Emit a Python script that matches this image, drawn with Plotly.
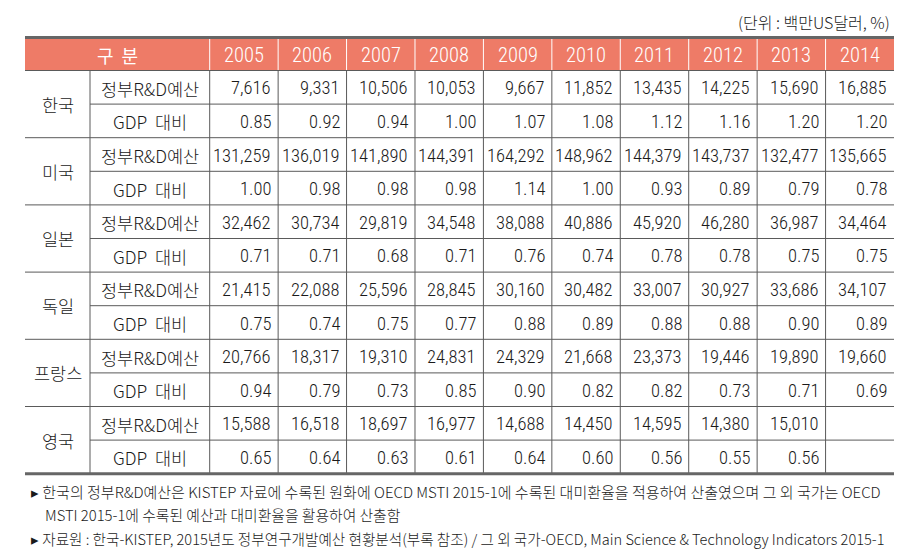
import plotly.graph_objects as go

# ---------------- data ----------------
years = ["2005", "2006", "2007", "2008", "2009", "2010", "2011", "2012", "2013", "2014"]
countries = ["한국", "미국", "일본", "독일", "프랑스", "영국"]
row_labels = ["정부R&D예산", "GDP\u00a0\u00a0대비"]

korea_budget = [7616, 9331, 10506, 10053, 9667, 11852, 13435, 14225, 15690, 16885]
korea_gdp = [0.85, 0.92, 0.94, 1.00, 1.07, 1.08, 1.12, 1.16, 1.20, 1.20]
usa_budget = [131259, 136019, 141890, 144391, 164292, 148962, 144379, 143737, 132477, 135665]
usa_gdp = [1.00, 0.98, 0.98, 0.98, 1.14, 1.00, 0.93, 0.89, 0.79, 0.78]
japan_budget = [32462, 30734, 29819, 34548, 38088, 40886, 45920, 46280, 36987, 34464]
japan_gdp = [0.71, 0.71, 0.68, 0.71, 0.76, 0.74, 0.78, 0.78, 0.75, 0.75]
germany_budget = [21415, 22088, 25596, 28845, 30160, 30482, 33007, 30927, 33686, 34107]
germany_gdp = [0.75, 0.74, 0.75, 0.77, 0.88, 0.89, 0.88, 0.88, 0.90, 0.89]
france_budget = [20766, 18317, 19310, 24831, 24329, 21668, 23373, 19446, 19890, 19660]
france_gdp = [0.94, 0.79, 0.73, 0.85, 0.90, 0.82, 0.82, 0.73, 0.71, 0.69]
uk_budget = [15588, 16518, 18697, 16977, 14688, 14450, 14595, 14380, 15010, None]
uk_gdp = [0.65, 0.64, 0.63, 0.61, 0.64, 0.60, 0.56, 0.55, 0.56, None]

header_label = "구\u00a0\u00a0분"
unit_text = "(단위 : 백만US달러, %)"
footnote1 = "▸ 한국의 정부R&D예산은 KISTEP 자료에 수록된 원화에 OECD MSTI 2015-1에 수록된 대미환율을 적용하여 산출였으며 그 외 국가는 OECD"
footnote2 = "MSTI 2015-1에 수록된 예산과 대미환율을 활용하여 산출함"
footnote3 = "▸ 자료원 : 한국-KISTEP, 2015년도 정부연구개발예산 현황분석(부록 참조) / 그 외 국가-OECD, Main Science & Technology Indicators 2015-1"

series = [
    (korea_budget, korea_gdp),
    (usa_budget, usa_gdp),
    (japan_budget, japan_gdp),
    (germany_budget, germany_gdp),
    (france_budget, france_gdp),
    (uk_budget, uk_gdp),
]

# ---------------- layout constants ----------------
W, H = 912, 559
LEFT = 17.0
C1 = 82.0
C2 = 201.7
RIGHT = 886.0
YW = (RIGHT - C2) / len(years)
TOP = 29.5
HB = 62.5
RH = (465.7 - HB) / 12

LINE = "#5a5a5a"
HEAD = "#ee7b67"
TXT = "#1a1a1a"
NUM_FONT = "Roboto Condensed, Liberation Sans, sans-serif"
KR_FONT = "Noto Sans CJK KR, sans-serif"

shapes = []
ann = []

# header fill
shapes.append(dict(type="rect", x0=LEFT, x1=RIGHT, y0=TOP, y1=HB, fillcolor=HEAD, line_width=0, layer="below"))

# header white separators
for i in range(len(years)):
    x = C2 + i * YW
    shapes.append(dict(type="line", x0=x, x1=x, y0=TOP, y1=HB, line=dict(color="white", width=1)))

n_rows = len(countries) * 2
bottom = HB + n_rows * RH

# horizontal lines
shapes.append(dict(type="line", x0=LEFT, x1=RIGHT, y0=HB, y1=HB, line=dict(color=LINE, width=1)))
for r in range(1, n_rows):
    y = HB + r * RH
    x0 = LEFT if r % 2 == 0 else C1
    shapes.append(dict(type="line", x0=x0, x1=RIGHT, y0=y, y1=y, line=dict(color=LINE, width=1)))

# vertical lines in body
for x in [C1] + [C2 + i * YW for i in range(len(years))]:
    shapes.append(dict(type="line", x0=x, x1=x, y0=HB, y1=bottom, line=dict(color=LINE, width=1)))

# thick top/bottom
shapes.append(dict(type="line", x0=LEFT, x1=RIGHT, y0=TOP, y1=TOP, line=dict(color="#666666", width=3)))
shapes.append(dict(type="line", x0=LEFT, x1=RIGHT, y0=bottom, y1=bottom, line=dict(color="#666666", width=3)))

# header texts
ann.append(dict(x=(LEFT + C2) / 2, y=(TOP + HB) / 2 + 1, text=header_label, showarrow=False,
                font=dict(family=KR_FONT, size=18, color="white")))
for i, yr in enumerate(years):
    ann.append(dict(x=C2 + (i + 0.5) * YW, y=(TOP + HB) / 2 + 1, text=yr, showarrow=False,
                    font=dict(family=NUM_FONT, size=20.5, color="white", weight=300)))

# body
for ci, (cname, (bud, gdp)) in enumerate(zip(countries, series)):
    y_top = HB + ci * 2 * RH
    ann.append(dict(x=(LEFT + C1) / 2, y=y_top + RH, text=cname, showarrow=False,
                    font=dict(family=KR_FONT, size=17.5, color=TXT, weight=300)))
    for k, (lab, vals) in enumerate(zip(row_labels, (bud, gdp))):
        yc = y_top + (k + 0.5) * RH + 1
        ann.append(dict(x=(C1 + C2) / 2, y=yc, text=lab, showarrow=False,
                        font=dict(family=KR_FONT, size=17.5, color=TXT, weight=300)))
        for i, v in enumerate(vals):
            if v is None:
                continue
            s = f"{v:,}" if k == 0 else f"{v:.2f}"
            ann.append(dict(x=C2 + (i + 1) * YW - 5, y=yc, text=s, showarrow=False, xanchor="right",
                            font=dict(family=NUM_FONT, size=18.5, color=TXT, weight=300)))

# unit text
ann.append(dict(x=RIGHT - 2, y=14, text=unit_text, showarrow=False, xanchor="right",
                font=dict(family=KR_FONT, size=16, color=TXT, weight=300)))

# footnotes
ann.append(dict(x=LEFT + 4, y=483.3, text=footnote1, showarrow=False, xanchor="left",
                font=dict(family=KR_FONT, size=15.0, color=TXT, weight=300)))
ann.append(dict(x=LEFT + 18, y=506.7, text=footnote2, showarrow=False, xanchor="left",
                font=dict(family=KR_FONT, size=14.8, color=TXT, weight=300)))
ann.append(dict(x=LEFT + 4, y=530.0, text=footnote3, showarrow=False, xanchor="left",
                font=dict(family=KR_FONT, size=14.6, color=TXT, weight=300)))

fig = go.Figure()
fig.add_trace(go.Scatter(x=[0, W], y=[0, H], mode="markers", marker=dict(opacity=0), hoverinfo="skip", showlegend=False))
fig.update_layout(
    width=W, height=H, margin=dict(l=0, r=0, t=0, b=0),
    paper_bgcolor="white", plot_bgcolor="white",
    xaxis=dict(range=[0, W], visible=False, fixedrange=True),
    yaxis=dict(range=[H, 0], visible=False, fixedrange=True),
    shapes=shapes, annotations=ann, showlegend=False,
)
fig.write_html("out.html")
